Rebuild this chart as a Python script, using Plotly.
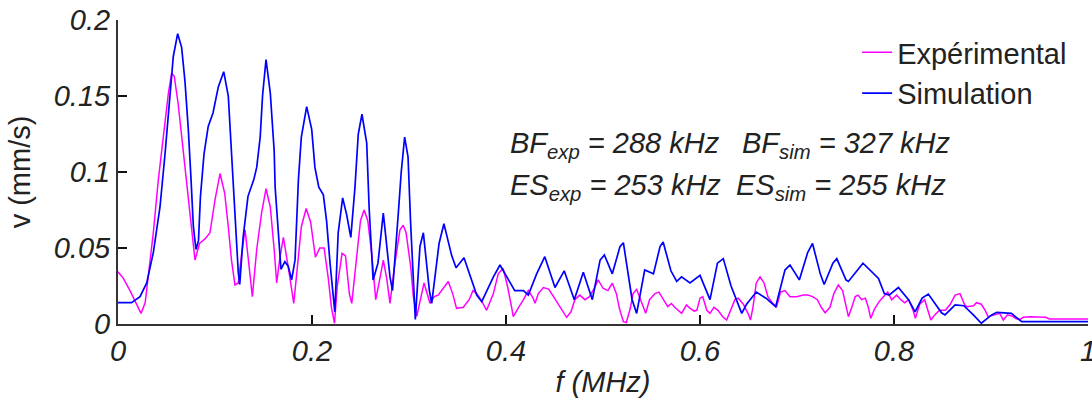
import plotly.graph_objects as go

# Frequency (MHz) and velocity (mm/s)
f_exp = [0, 0.0055, 0.0124, 0.0192, 0.0237, 0.028, 0.0313, 0.0364, 0.0416, 0.0467, 0.052, 0.0553, 0.058,
         0.062, 0.0656, 0.070, 0.0742, 0.0777, 0.0794, 0.084, 0.0897, 0.0948, 0.100, 0.1052, 0.110, 0.1137,
         0.117, 0.1206, 0.124, 0.1275, 0.131, 0.136, 0.1385, 0.143, 0.148, 0.1526, 0.157, 0.161, 0.1636,
         0.167, 0.1705, 0.1766, 0.1812, 0.185, 0.189, 0.194, 0.1986, 0.2035, 0.208, 0.2125, 0.2168, 0.220,
         0.2232, 0.226, 0.231, 0.2345, 0.2385, 0.241, 0.2454, 0.250, 0.2537, 0.2575, 0.2615, 0.2657, 0.270,
         0.2735, 0.277, 0.2804, 0.2855, 0.2907, 0.294, 0.297, 0.3017, 0.3045, 0.308, 0.312, 0.3155, 0.3216,
         0.326, 0.330, 0.3405, 0.345, 0.349, 0.356, 0.362, 0.366, 0.3698, 0.375, 0.380, 0.387, 0.392, 0.397,
         0.4015, 0.406, 0.4075, 0.413, 0.418, 0.423, 0.428, 0.430, 0.4333, 0.4385, 0.444, 0.449, 0.455,
         0.4625, 0.467, 0.471, 0.476, 0.4814, 0.486, 0.491, 0.495, 0.500, 0.505, 0.5096, 0.5138, 0.517,
         0.521, 0.524, 0.528, 0.531, 0.5347, 0.539, 0.544, 0.548, 0.5536, 0.5577, 0.562, 0.5667, 0.5705,
         0.574, 0.581, 0.586, 0.5895, 0.594, 0.5967, 0.600, 0.6028, 0.607, 0.6103, 0.6144, 0.6186, 0.6234,
         0.6275, 0.6326, 0.636, 0.6395, 0.6447, 0.6498, 0.652, 0.6546, 0.658, 0.6619, 0.666, 0.670, 0.675,
         0.679, 0.683, 0.6876, 0.6928, 0.6996, 0.7065, 0.7113, 0.716, 0.721, 0.725, 0.729, 0.734, 0.738,
         0.7426, 0.747, 0.751, 0.753, 0.7565, 0.760, 0.763, 0.7665, 0.7705, 0.7735, 0.776, 0.780, 0.785,
         0.791, 0.7935, 0.7976, 0.8027, 0.807, 0.811, 0.815, 0.8197, 0.822, 0.8265, 0.8316, 0.835, 0.838,
         0.842, 0.847, 0.853, 0.858, 0.863, 0.868, 0.873, 0.875, 0.882, 0.885, 0.890, 0.894, 0.897, 0.901,
         0.906, 0.909, 0.9127, 0.917, 0.9215, 0.926, 0.930, 0.9333, 0.940, 0.955, 0.9565, 0.960, 1.0]
v_exp = [0.0344, 0.030, 0.022, 0.0136, 0.007, 0.014, 0.031, 0.060, 0.095, 0.123, 0.152, 0.165, 0.163,
         0.145, 0.123, 0.097, 0.073, 0.051, 0.042, 0.053, 0.056, 0.060, 0.0816, 0.099, 0.086, 0.064,
         0.042, 0.0257, 0.027, 0.0465, 0.062, 0.033, 0.018, 0.049, 0.073, 0.089, 0.077, 0.049, 0.027,
         0.044, 0.057, 0.033, 0.0136, 0.038, 0.064, 0.076, 0.067, 0.044, 0.050, 0.050, 0.030, 0.011,
         0.0005, 0.0245, 0.0465, 0.045, 0.020, 0.0136, 0.042, 0.068, 0.075, 0.068, 0.0465, 0.016, 0.030,
         0.042, 0.030, 0.0136, 0.040, 0.062, 0.065, 0.060, 0.038, 0.018, 0.005, 0.018, 0.027, 0.0136,
         0.018, 0.019, 0.028, 0.020, 0.0103, 0.011, 0.016, 0.022, 0.020, 0.015, 0.009, 0.020, 0.033, 0.0366,
         0.025, 0.0103, 0.0048, 0.011, 0.016, 0.022, 0.017, 0.0136, 0.020, 0.024, 0.023, 0.018, 0.012,
         0.0044, 0.008, 0.016, 0.019, 0.016, 0.018, 0.0235, 0.029, 0.0235, 0.022, 0.0268, 0.020, 0.010,
         0.0015, 0.001, 0.010, 0.020, 0.0228, 0.016, 0.007, 0.016, 0.020, 0.021, 0.016, 0.0114, 0.0135,
         0.011, 0.007, 0.0125, 0.0105, 0.0085, 0.009, 0.017, 0.018, 0.009, 0.007, 0.011, 0.009, 0.0048,
         0.0026, 0.011, 0.016, 0.017, 0.013, 0.0065, 0.0026, 0.011, 0.027, 0.031, 0.027, 0.018, 0.0136,
         0.0114, 0.021, 0.022, 0.018, 0.018, 0.019, 0.019, 0.018, 0.016, 0.011, 0.0074, 0.011, 0.020,
         0.0257, 0.022, 0.009, 0.0048, 0.011, 0.018, 0.019, 0.016, 0.017, 0.011, 0.0037, 0.010, 0.015,
         0.0197, 0.021, 0.016, 0.019, 0.016, 0.014, 0.016, 0.009, 0.0037, 0.013, 0.016, 0.009, 0.0026,
         0.006, 0.009, 0.009, 0.013, 0.019, 0.020, 0.0125, 0.0114, 0.012, 0.014, 0.013, 0.009, 0.0048, 0.0055,
         0.0065, 0.007, 0.0026, 0.006, 0.0053, 0.0035, 0.003, 0.0044, 0.0048, 0.0048, 0.0044, 0.0033, 0.0033]

f_sim = [0, 0.014, 0.0227, 0.0296, 0.0364, 0.0433, 0.0485, 0.053, 0.057, 0.0615, 0.0656, 0.069, 0.0725,
         0.0753, 0.0777, 0.0804, 0.083, 0.085, 0.0887, 0.093, 0.098, 0.1034, 0.109, 0.1137, 0.117, 0.1206,
         0.124, 0.1255, 0.129, 0.134, 0.140, 0.143, 0.1466, 0.149, 0.1526, 0.157, 0.161, 0.162, 0.1653,
         0.168, 0.172, 0.1755, 0.179, 0.1825, 0.186, 0.189, 0.1945, 0.1997, 0.203, 0.207, 0.2117, 0.215,
         0.2186, 0.222, 0.2235, 0.227, 0.2316, 0.2357, 0.240, 0.2443, 0.2477, 0.2515, 0.2564, 0.259, 0.263,
         0.268, 0.2735, 0.2804, 0.283, 0.289, 0.292, 0.2955, 0.299, 0.3017, 0.3045, 0.3065, 0.3113, 0.3148,
         0.321, 0.3234, 0.331, 0.336, 0.344, 0.3485, 0.3567, 0.3646, 0.3698, 0.375, 0.387, 0.3938, 0.404,
         0.409, 0.418, 0.423, 0.4316, 0.440, 0.4505, 0.460, 0.4704, 0.4797, 0.489, 0.497, 0.5014, 0.5096,
         0.5175, 0.521, 0.530, 0.5347, 0.543, 0.552, 0.5588, 0.562, 0.570, 0.576, 0.581, 0.5897, 0.600,
         0.6103, 0.618, 0.624, 0.632, 0.643, 0.648, 0.658, 0.668, 0.678, 0.6876, 0.6928, 0.7024, 0.711,
         0.716, 0.724, 0.728, 0.737, 0.741, 0.7505, 0.753, 0.768, 0.784, 0.790, 0.795, 0.8045, 0.815,
         0.8217, 0.829, 0.8354, 0.849, 0.8526, 0.863, 0.872, 0.8818, 0.890, 0.9007, 0.906, 0.921, 0.930,
         0.9316, 1.0]
v_sim = [0.014, 0.014, 0.018, 0.027, 0.047, 0.077, 0.112, 0.145, 0.176, 0.191, 0.182, 0.160, 0.128,
         0.095, 0.064, 0.049, 0.055, 0.084, 0.112, 0.130, 0.139, 0.156, 0.166, 0.150, 0.112, 0.068,
         0.034, 0.026, 0.057, 0.084, 0.095, 0.103, 0.123, 0.150, 0.174, 0.152, 0.114, 0.090, 0.060,
         0.036, 0.041, 0.038, 0.029, 0.042, 0.095, 0.123, 0.143, 0.128, 0.103, 0.090, 0.085, 0.068,
         0.040, 0.016, 0.008, 0.060, 0.083, 0.072, 0.057, 0.090, 0.125, 0.138, 0.119, 0.075, 0.029,
         0.040, 0.073, 0.031, 0.022, 0.073, 0.100, 0.123, 0.110, 0.066, 0.033, 0.003, 0.051, 0.060,
         0.022, 0.0136, 0.053, 0.066, 0.045, 0.037, 0.0436, 0.029, 0.019, 0.0147, 0.031, 0.0388, 0.027,
         0.022, 0.022, 0.019, 0.033, 0.0443, 0.024, 0.035, 0.016, 0.034, 0.016, 0.042, 0.0454, 0.033,
         0.0509, 0.0535, 0.016, 0.007, 0.0355, 0.033, 0.0509, 0.054, 0.035, 0.028, 0.031, 0.027, 0.032,
         0.016, 0.040, 0.043, 0.025, 0.007, 0.013, 0.021, 0.017, 0.0114, 0.0355, 0.0388, 0.029, 0.047,
         0.053, 0.033, 0.026, 0.040, 0.043, 0.029, 0.028, 0.040, 0.030, 0.020, 0.019, 0.024, 0.016,
         0.008, 0.017, 0.0197, 0.0074, 0.006, 0.0125, 0.012, 0.006, 0.0005, 0.006, 0.0077, 0.007, 0.0022,
         0.0015, 0.0015]

x_ticks = [0, 0.2, 0.4, 0.6, 0.8, 1]
x_tick_text = ["0", "0.2", "0.4", "0.6", "0.8", "1"]
y_ticks = [0, 0.05, 0.1, 0.15, 0.2]
y_tick_text = ["0", "0.05", "0.1", "0.15", "0.2"]

FONT = "Liberation Sans, Arial, sans-serif"
TXT = "#222222"
FS = 29

fig = go.Figure()
fig.add_trace(go.Scatter(x=f_exp, y=v_exp, mode="lines", name="Expérimental",
                         line=dict(color="#ff00ff", width=1.5)))
fig.add_trace(go.Scatter(x=f_sim, y=v_sim, mode="lines", name="Simulation",
                         line=dict(color="#0000ff", width=1.7)))

fig.update_layout(
    width=1092, height=404,
    margin=dict(l=118, r=4, t=20, b=80),
    plot_bgcolor="white", paper_bgcolor="white",
    font=dict(family=FONT, size=FS, color=TXT),
    showlegend=True,
    legend=dict(x=0.762, y=0.977, xanchor="left", yanchor="top",
                bgcolor="rgba(0,0,0,0)", font=dict(size=FS, color=TXT),
                tracegroupgap=0, itemwidth=30),
    xaxis=dict(range=[0, 1], tickvals=x_ticks, ticktext=x_tick_text, automargin=False,
               ticklabeloverflow="allow",
               ticks="inside", ticklen=9, tickwidth=1.5, tickcolor="#111",
               showline=True, linewidth=2, linecolor="#333", mirror=False,
               showgrid=False, zeroline=False,
               tickfont=dict(size=FS, style="italic", color=TXT),
               title=dict(text="f (MHz)", font=dict(size=FS, style="italic", color=TXT),
                          standoff=6)),
    yaxis=dict(range=[0, 0.2], tickvals=y_ticks, ticktext=y_tick_text, automargin=False,
               ticklabeloverflow="allow",
               ticks="inside", ticklen=9, tickwidth=1.5, tickcolor="#111",
               showline=True, linewidth=2, linecolor="#333", mirror=False,
               showgrid=False, zeroline=False,
               tickfont=dict(size=FS, style="italic", color=TXT),
               title=dict(text="v (mm/s)", font=dict(size=FS, color=TXT))),
)

ann_font = dict(family=FONT, size=FS, color=TXT, style="italic")
notes = [
    ("BF<sub>exp</sub> = 288 kHz", 0.402, 0.589),
    ("BF<sub>sim</sub> = 327 kHz", 0.641, 0.589),
    ("ES<sub>exp</sub> = 253 kHz", 0.402, 0.451),
    ("ES<sub>sim</sub> = 255 kHz", 0.635, 0.451),
]
for txt, ax, ay in notes:
    fig.add_annotation(text=txt, x=ax, y=ay, xref="paper", yref="paper",
                       xanchor="left", yanchor="middle", showarrow=False, font=ann_font)

fig.write_html("out.html", config={"displayModeBar": False},
               post_script="document.body.style.margin='0';")
